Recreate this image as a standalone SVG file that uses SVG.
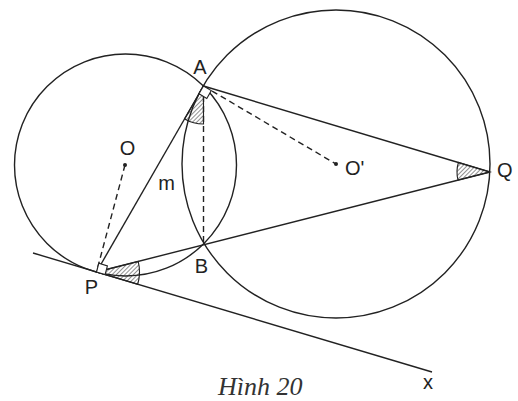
<svg xmlns="http://www.w3.org/2000/svg" width="518" height="401" viewBox="0 0 518 401">
<defs>
<pattern id="hatch" patternUnits="userSpaceOnUse" width="3" height="3" patternTransform="rotate(45)">
<line x1="0" y1="0" x2="0" y2="3" stroke="#333" stroke-width="1.1"/>
</pattern>
</defs>
<style>
.ln{fill:none;stroke:#222;stroke-width:1.4}
.ds{fill:none;stroke:#222;stroke-width:1.4;stroke-dasharray:6 4}
.ang{fill:url(#hatch);stroke:#222;stroke-width:1.1}
.sq{fill:#fff;stroke:#222;stroke-width:1.1}
.lb{font-family:"Liberation Sans",Arial,sans-serif;font-size:20px;fill:#222}
.cap{font-family:"Liberation Serif","Times New Roman",serif;font-style:italic;font-size:26px;fill:#333}
.dot{fill:#222}
</style>
<rect width="518" height="401" fill="#fff"/>
<g id="circle-O"><circle class="ln" cx="125.5" cy="165" r="111"/></g>
<g id="circle-O-prime"><circle class="ln" cx="336" cy="164" r="154"/></g>
<g id="angles">
<path class="ang" d="M203.5 86 L203.5 124 A38 38 0 0 1 184.6 118.9 Z"/>
<path class="ang" d="M96.5 272 L138.2 261.4 A43 43 0 0 1 137.7 284.3 Z"/>
<path class="ang" d="M490 172 L458.4 162.5 A33 33 0 0 0 458.0 180.1 Z"/>
</g>
<g id="connectors">
<line class="ln" x1="33" y1="253" x2="432" y2="372"/>
<line class="ln" x1="96.5" y1="272" x2="203.5" y2="86"/>
<line class="ln" x1="203.5" y1="86" x2="490" y2="172"/>
<line class="ln" x1="96.5" y1="272" x2="490" y2="172"/>
<line class="ds" x1="125" y1="165" x2="96.5" y2="272"/>
<line class="ds" x1="203.5" y1="86" x2="203.5" y2="242"/>
<line class="ds" x1="203.5" y1="86" x2="336" y2="164"/>
</g>
<g id="right-angles">
<path class="sq" d="M96.5 272 L105.1 274.6 L107.4 265.9 L98.8 263.3 Z"/>
<path class="sq" d="M203.5 86 L199.0 93.8 L206.8 98.4 L211.3 90.6 Z"/>
</g>
<g id="node-O"><circle class="dot" cx="125" cy="165" r="2"/><text class="lb" x="127.5" y="155" text-anchor="middle">O</text></g>
<g id="node-O-prime"><circle class="dot" cx="336" cy="164" r="2"/><text class="lb" x="345" y="175">O'</text></g>
<g id="node-A"><text class="lb" x="200" y="74" text-anchor="middle">A</text></g>
<g id="node-B"><text class="lb" x="201.5" y="273" text-anchor="middle">B</text></g>
<g id="node-P"><text class="lb" x="91.5" y="294" text-anchor="middle">P</text></g>
<g id="node-Q"><text class="lb" x="497" y="177">Q</text></g>
<g id="label-m"><text class="lb" x="166.7" y="190" text-anchor="middle">m</text></g>
<g id="label-x"><text class="lb" x="428" y="389" text-anchor="middle">x</text></g>
<g id="caption"><text class="cap" x="218" y="395">Hình 20</text></g>
</svg>
